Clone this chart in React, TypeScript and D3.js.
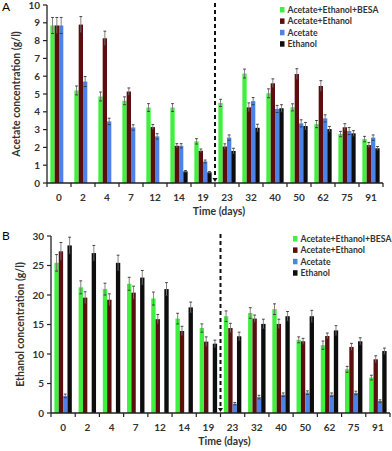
import React from "react";
import * as d3 from "d3";

// x categories (days)
const days = ["0", "2", "4", "7", "12", "14", "19", "23", "32", "40", "50", "62", "75", "91"];
const seriesNames = ["Acetate+Ethanol+BESA", "Acetate+Ethanol", "Acetate", "Ethanol"];
const seriesColors = ["#3ff03f", "#5a0e0e", "#4f82e6", "#0d0d0d"];

// panel A: acetate concentration (g/l)
const acBesa = [8.85, 5.2, 4.86, 4.62, 4.24, 4.24, 2.34, 4.5, 6.15, 5.04, 4.25, 3.31, 2.75, 2.47];
const acAcEt = [8.85, 8.9, 8.13, 5.14, 3.14, 2.09, 1.81, 2.05, 4.25, 5.6, 6.12, 5.45, 3.13, 2.13];
const acAc = [8.85, 5.7, 3.46, 3.12, 2.62, 2.09, 1.21, 2.55, 4.6, 4.16, 3.35, 3.63, 2.92, 2.55];
const acEt = [0, 0, 0, 0, 0, 0.65, 0.6, 1.8, 3.1, 4.2, 3.2, 3.03, 2.79, 1.95];
const acBesaErr = [0.45, 0.25, 0.25, 0.22, 0.22, 0.22, 0.15, 0.2, 0.25, 0.25, 0.2, 0.2, 0.15, 0.15];
const acAcEtErr = [0.45, 0.45, 0.4, 0.2, 0.15, 0.12, 0.1, 0.15, 0.25, 0.25, 0.3, 0.3, 0.2, 0.15];
const acAcErr = [0.45, 0.28, 0.18, 0.15, 0.15, 0.12, 0.08, 0.15, 0.2, 0.2, 0.2, 0.2, 0.2, 0.15];
const acEtErr = [0, 0, 0, 0, 0, 0.05, 0.05, 0.15, 0.2, 0.2, 0.2, 0.15, 0.15, 0.1];
const acTicks = [0, 1, 2, 3, 4, 5, 6, 7, 8, 9, 10];

// panel B: ethanol concentration (g/l)
const etBesa = [25.45, 21.3, 21.0, 21.9, 19.4, 16.0, 14.4, 16.4, 16.95, 17.6, 12.4, 11.5, 7.4, 6.0];
const etAcEt = [27.4, 19.55, 19.2, 20.4, 15.9, 13.9, 12.1, 14.4, 16.0, 15.1, 12.15, 13.05, 11.2, 9.1];
const etAc = [2.9, 0, 0, 0, 0, 0, 0, 1.58, 2.7, 3.1, 3.45, 3.1, 3.4, 2.03];
const etEt = [28.4, 27.1, 25.45, 22.95, 21.0, 17.9, 11.75, 13.0, 15.1, 16.4, 16.4, 14.0, 12.15, 10.5];
const etBesaErr = [1.4, 1.1, 1.0, 1.1, 1.1, 0.9, 0.7, 0.9, 0.9, 0.9, 0.5, 0.7, 0.5, 0.4];
const etAcEtErr = [1.5, 1.0, 1.0, 1.1, 0.8, 0.8, 0.8, 0.8, 0.6, 0.8, 0.5, 0.5, 0.6, 0.6];
const etAcErr = [0.3, 0, 0, 0, 0, 0, 0, 0.2, 0.3, 0.3, 0.3, 0.3, 0.3, 0.2];
const etEtErr = [1.4, 1.3, 1.3, 1.2, 1.1, 0.9, 0.6, 0.7, 0.8, 0.8, 1.0, 0.8, 0.6, 0.5];
const etTicks = [0, 5, 10, 15, 20, 25, 30];

const font = "Lato, 'Open Sans', sans-serif";

type PanelProps = {
  letter: string;
  yLabel: string;
  values: number[][];
  errors: number[][];
  ticks: number[];
  box: { left: number; right: number; top: number; bottom: number };
  legend: { x: number; y: number };
  letterY: number;
};

function Panel({ letter, yLabel, values, errors, ticks, box, legend, letterY }: PanelProps) {
  const yMax = ticks[ticks.length - 1];
  const y = d3.scaleLinear().domain([0, yMax]).range([box.bottom, box.top]);
  const x = d3.scaleBand().domain(days).range([box.left, box.right]).paddingInner(0.28).paddingOuter(0.14);
  const inner = d3.scaleBand().domain(d3.range(4).map(String)).range([0, x.bandwidth()]);
  const step = x.step();
  const splitX = box.left + step * 7;

  return (
    <g fontFamily={font} fontWeight="bold">
      <text x={2} y={letterY} fontSize={12} fontWeight="normal">{letter}</text>

      {/* bars */}
      {values.map((vals, s) =>
        vals.map((v, i) =>
          v > 0 ? (
            <rect key={`b${s}-${i}`} x={(x(days[i]) as number) + (inner(String(s)) as number)}
              y={y(v)} width={inner.bandwidth()} height={box.bottom - y(v)} fill={seriesColors[s]} />
          ) : null
        )
      )}

      {/* error bars */}
      {values.map((vals, s) =>
        vals.map((v, i) => {
          const e = errors[s][i];
          if (v <= 0 || e <= 0) return null;
          const cx = (x(days[i]) as number) + (inner(String(s)) as number) + inner.bandwidth() / 2;
          return (
            <g key={`e${s}-${i}`} stroke="#333" strokeWidth={0.9}>
              <line x1={cx} x2={cx} y1={y(v + e)} y2={y(v - e)} stroke="#777" />
              <line x1={cx - 1.4} x2={cx + 1.4} y1={y(v + e)} y2={y(v + e)} />
              <line x1={cx - 1.4} x2={cx + 1.4} y1={y(v - e)} y2={y(v - e)} />
            </g>
          );
        })
      )}

      {/* dashed divider */}
      <line x1={splitX} x2={splitX} y1={box.top - 2} y2={box.bottom - 4} stroke="#111" strokeWidth={2} strokeDasharray="4,3" />
      <path d={`M${splitX - 2.5},${box.bottom - 5} L${splitX + 2.5},${box.bottom - 5} L${splitX},${box.bottom - 1} Z`} fill="#111" />

      {/* y axis */}
      <line x1={box.left} x2={box.left} y1={box.top} y2={box.bottom} stroke="#222" strokeWidth={1.3} />
      {ticks.map((t) => (
        <g key={`yt${t}`}>
          <line x1={box.left - 4} x2={box.left} y1={y(t)} y2={y(t)} stroke="#222" strokeWidth={1.2} />
          <text x={box.left - 7} y={y(t)} dy="0.35em" textAnchor="end" fontSize={10} fill="#333">{t}</text>
        </g>
      ))}
      <text transform={`translate(${box.left - 27},${(box.top + box.bottom) / 2}) rotate(-90)`}
        textAnchor="middle" fontSize={10.5} fill="#333">{yLabel}</text>

      {/* x axis */}
      <line x1={box.left} x2={box.right} y1={box.bottom} y2={box.bottom} stroke="#222" strokeWidth={1.3} />
      {d3.range(days.length + 1).map((i) => (
        <line key={`xt${i}`} x1={box.left + i * step} x2={box.left + i * step} y1={box.bottom} y2={box.bottom + 4}
          stroke="#222" strokeWidth={1.2} />
      ))}
      {days.map((d) => (
        <text key={`xl${d}`} x={(x(d) as number) + x.bandwidth() / 2} y={box.bottom + 17.5} textAnchor="middle" fontSize={10} fill="#333">{d}</text>
      ))}
      <text x={(box.left + box.right) / 2 + 4} y={box.bottom + 31.5} textAnchor="middle" fontSize={10.5} fill="#333">Time (days)</text>

      {/* legend */}
      {seriesNames.map((n, s) => (
        <g key={`lg${s}`} transform={`translate(${legend.x},${legend.y + s * 11.4})`}>
          <rect x={0} y={-3} width={4.5} height={5.5} fill={seriesColors[s]} />
          <text x={7.5} y={0} dy="0.35em" fontSize={8.7} fill="#333">{n}</text>
        </g>
      ))}
    </g>
  );
}

export default function App() {
  return (
    <svg width={392} height={451} style={{ position: "absolute", left: 0, top: 0, background: "#fff" }}>
      <Panel letter="A" yLabel="Acetate concentration (g/l)"
        values={[acBesa, acAcEt, acAc, acEt]} errors={[acBesaErr, acAcEtErr, acAcErr, acEtErr]}
        ticks={acTicks} box={{ left: 47, right: 383, top: 5, bottom: 183 }}
        legend={{ x: 280, y: 10 }} letterY={11} />
      <Panel letter="B" yLabel="Ethanol concentration (g/l)"
        values={[etBesa, etAcEt, etAc, etEt]} errors={[etBesaErr, etAcEtErr, etAcErr, etEtErr]}
        ticks={etTicks} box={{ left: 51, right: 390, top: 236, bottom: 413 }}
        legend={{ x: 293, y: 239 }} letterY={240} />
    </svg>
  );
}
